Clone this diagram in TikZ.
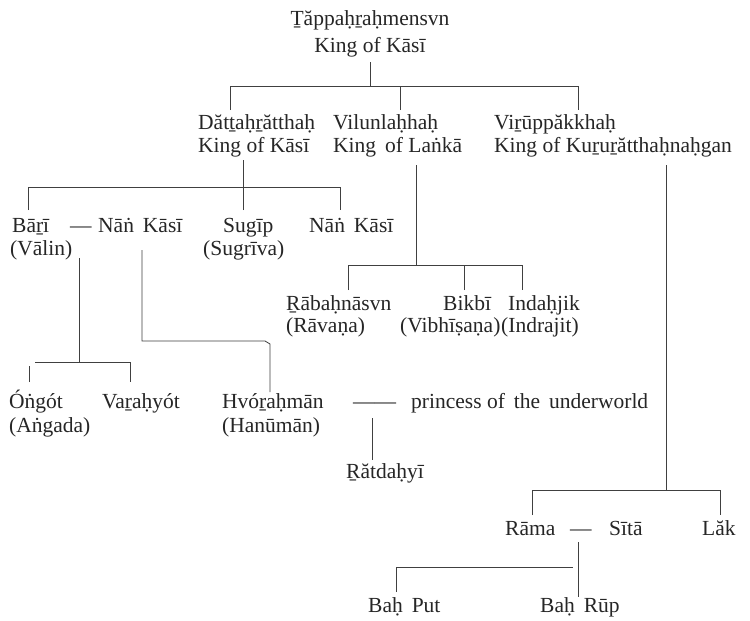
\documentclass[tikz,border=0pt]{standalone}
\usepackage{fontspec}
\setmainfont{Liberation Serif}
\usetikzlibrary{positioning}

\begin{document}
\begin{tikzpicture}[x=1pt,y=-1pt,
	pers/.style={anchor=base west,inner sep=0pt,text=black!85,font=\fontsize{21.5}{23}\selectfont},
	tree/.style={line width=0.8pt,draw=black!75}]
	\useasboundingbox[fill=white] (0,0) rectangle (750,621);
	% first generation
	\path (370,25) node (tap) [pers,anchor=base] {Ṯăppaḥṟaḥmensvn}
		  (370,52) node (tapk) [pers,anchor=base] {King of Kāsī};
	% second generation
	\path (198,129) node (dat) [pers] {Dătṯaḥṟătthaḥ}
		  (198,152) node (datk) [pers] {King of Kāsī}
		  (333,129) node (vil) [pers] {Vilunlaḥhaḥ}
		  (333,152) node (vilk) [pers] {King\, of Laṅkā}
		  (494,129) node (vir) [pers] {Viṟūppăkkhaḥ}
		  (494,152) node (virk) [pers] {King of Kuṟuṟătthaḥnaḥgan};
	% children of Dătṯaḥṟătthaḥ
	\path (12,232) node (bar) [pers] {Bāṟī}
		  (10,255) node (bar2) [pers] {(Vālin)}
		  (70,232) node (m1) [pers] {—}
		  (98,232) node (nan1) [pers] {Nāṅ\, Kāsī}
		  (223,232) node (sug) [pers] {Sugīp}
		  (203,255) node (sug2) [pers] {(Sugrīva)}
		  (309,232) node (nan2) [pers] {Nāṅ\, Kāsī};
	% children of Vilunlaḥhaḥ
	\path (286,310) node (rab) [pers] {Ṟābaḥnāsvn}
		  (286,332) node (rab2) [pers] {(Rāvaṇa)}
		  (443,310) node (bik) [pers] {Bikbī}
		  (400,332) node (bik2) [pers] {(Vibhīṣaṇa)}
		  (508,310) node (ind) [pers] {Indaḥjik}
		  (501,332) node (ind2) [pers] {(Indrajit)};
	% grandchildren
	\path (9,408) node (ong) [pers] {Óṅgót}
		  (9,432) node (ong2) [pers] {(Aṅgada)}
		  (102,408) node (var) [pers] {Vaṟaḥyót}
		  (222,408) node (hvo) [pers] {Hvóṟaḥmān}
		  (222,432) node (hvo2) [pers] {(Hanūmān)}
		  (353,408) node (m2) [pers] {——}
		  (411,408) node (pri) [pers] {princess of\, the\, underworld}
		  (346,478) node (rat) [pers] {Ṟătdaḥyī};
	% children of Viṟūppăkkhaḥ
	\path (505,535) node (ram) [pers] {Rāma}
		  (570,535) node (m3) [pers] {—}
		  (609,535) node (sit) [pers] {Sītā}
		  (702,535) node (lak) [pers] {Lăk}
		  (368,612) node (put) [pers] {Baḥ\, Put}
		  (540,612) node (rup) [pers] {Baḥ\, Rūp};
	% connectors
	\path (370,62) coordinate (a0) (370,86) coordinate (a1)
		  (230,110) coordinate (a2) (400,110) coordinate (a3) (578,110) coordinate (a4)
		  (243,160) coordinate (b0) (243,187) coordinate (b1)
		  (28,210) coordinate (b2) (243,210) coordinate (b3) (340,210) coordinate (b4)
		  (416,165) coordinate (c0) (416,265) coordinate (c1)
		  (348,290) coordinate (c2) (464,290) coordinate (c3) (522,290) coordinate (c4)
		  (79,258) coordinate (d0) (79,362) coordinate (d1)
		  (29,382) coordinate (d2) (130,382) coordinate (d3)
		  (142,250) coordinate (e0) (265,341) coordinate (e1) (270,392) coordinate (e2)
		  (372,418) coordinate (f0) (372,460) coordinate (f1)
		  (666,165) coordinate (g0) (666,490) coordinate (g1)
		  (532,515) coordinate (g2) (720,515) coordinate (g3)
		  (578,542) coordinate (h0) (578,597) coordinate (h1)
		  (396,592) coordinate (h2) (573,567) coordinate (h3);
	\draw[tree] (a0) -- (a1);
	\draw[tree] (a2) -- (a2 |- a1) -- (a4 |- a1) -- (a4);
	\draw[tree] (a3) -- (a3 |- a1);
	\draw[tree] (b0) -- (b1);
	\draw[tree] (b2) -- (b2 |- b1) -- (b4 |- b1) -- (b4);
	\draw[tree] (b3) -- (b1);
	\draw[tree] (c0) -- (c1);
	\draw[tree] (c2) -- (c2 |- c1) -- (c4 |- c1) -- (c4);
	\draw[tree] (c3) -- (c3 |- c1);
	\draw[tree] (d0) -- (d1);
	\draw[tree] ([xshift=6pt]d2 |- d1) -- (d3 |- d1) -- (d3);
	\draw[tree] (d2) -- ++(0,-16);
	\draw[tree] (e0) |- (e1) -- ++(5,3) -- (e2);
	\draw[tree] (f0) -- (f1);
	\draw[tree] (g0) -- (g1);
	\draw[tree] (g2) -- (g2 |- g1) -- (g3 |- g1) -- (g3);
	\draw[tree] (h0) -- (h1);
	\draw[tree] (h2) -- (h2 |- h3) -- (h3);
\end{tikzpicture}
\end{document}
